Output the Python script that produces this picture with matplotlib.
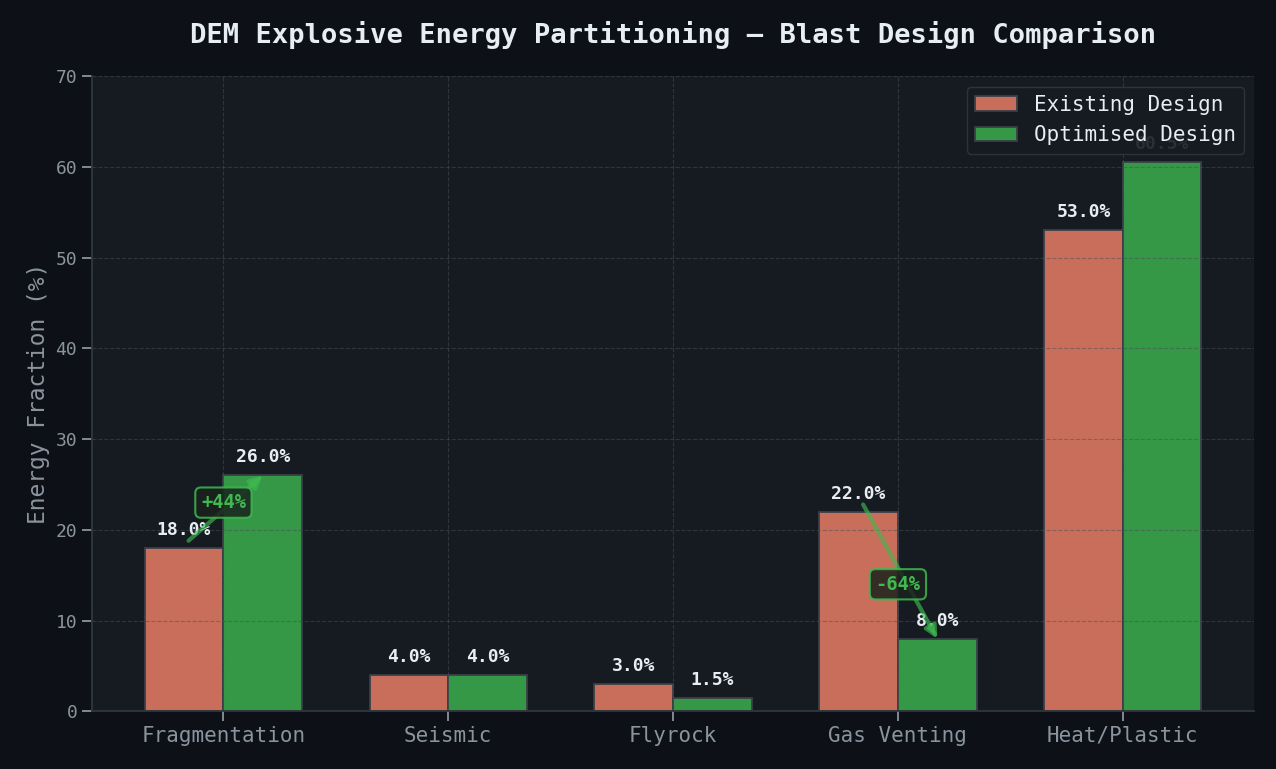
import numpy as np
import matplotlib
matplotlib.use("Agg")
import matplotlib.pyplot as plt

categories = ["Fragmentation", "Seismic", "Flyrock", "Gas Venting", "Heat/Plastic"]
existing = [18.0, 4.0, 3.0, 22.0, 53.0]
optimised = [26.0, 4.0, 1.5, 8.0, 60.5]
# (category index, change label)
changes = [(0, "+44%"), (3, "-64%")]

BG = "#0d1117"
AX_BG = "#161b22"
GRID = "#30363d"
TXT = "#e6edf3"
MUTED = "#8b949e"
RED = "#c86e5a"
GREEN = "#349846"
ACCENT = "#3fb950"

plt.rcParams["font.family"] = ["DejaVu Sans Mono", "DejaVu Sans"]

fig, ax = plt.subplots(figsize=(12.76, 7.69), dpi=100)
fig.patch.set_facecolor(BG)
ax.set_facecolor(AX_BG)

x = np.arange(len(categories))
w = 0.35
b1 = ax.bar(x - w / 2, existing, w, color=RED, edgecolor="#3a3f47", linewidth=1.3, label="Existing Design")
b2 = ax.bar(x + w / 2, optimised, w, color=GREEN, edgecolor="#3a3f47", linewidth=1.3, label="Optimised Design")

for bars in (b1, b2):
    for b in bars:
        h = b.get_height()
        ax.text(b.get_x() + b.get_width() / 2, h + 1.0, f"{h:.1f}%",
                ha="center", va="bottom", color=TXT, fontsize=13, fontweight="bold")

for i, lab in changes:
    y0, y1 = existing[i], optimised[i]
    ax.annotate("", xy=(i + w / 2, y1), xytext=(i - w / 2 + 0.02, y0 + 0.8),
                arrowprops=dict(arrowstyle="-|>", color=ACCENT, lw=3, alpha=0.65,
                                mutation_scale=18, shrinkA=0, shrinkB=0))
    ym = (y0 + y1) / 2 + (1 if y1 > y0 else -1)
    ax.text(i, ym, lab, ha="center", va="center", color=ACCENT, fontsize=13.5, fontweight="bold",
            bbox=dict(boxstyle="round,pad=0.3", facecolor="#1a221d", edgecolor=ACCENT, alpha=0.85, lw=1.5))

ax.set_ylim(0, 70)
ax.set_xticks(x)
ax.set_xticklabels(categories)
ax.tick_params(axis="x", colors=MUTED, labelsize=15, length=7, width=1.3)
ax.tick_params(axis="y", colors=MUTED, labelsize=13, length=7, width=1.3)
ax.set_ylabel("Energy Fraction (%)", color=MUTED, fontsize=16.5)
ax.set_title("DEM Explosive Energy Partitioning — Blast Design Comparison",
             color=TXT, fontsize=19.5, fontweight="bold", pad=24)

for s in ("top", "right"):
    ax.spines[s].set_visible(False)
for s in ("left", "bottom"):
    ax.spines[s].set_color(GRID)
    ax.spines[s].set_linewidth(1.3)

ax.grid(True, color="#4a4f57", linestyle="--", linewidth=0.8, alpha=0.5)

leg = ax.legend(loc="upper right", fontsize=15, facecolor=AX_BG, edgecolor=GRID, framealpha=0.9)
for t in leg.get_texts():
    t.set_color(TXT)

fig.subplots_adjust(left=0.072, right=0.983, top=0.901, bottom=0.075)
fig.savefig("out.png", dpi=100, facecolor=BG)
